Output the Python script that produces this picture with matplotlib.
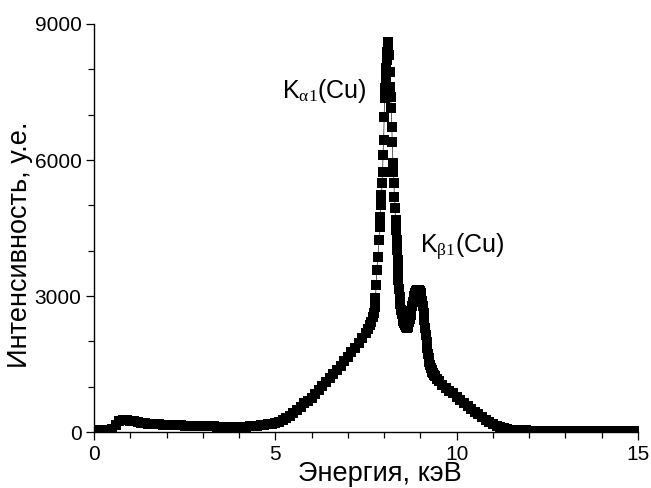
import matplotlib
matplotlib.use("Agg")
import matplotlib.pyplot as plt
from matplotlib.ticker import MultipleLocator

plt.rcParams['font.family'] = ['Liberation Sans', 'DejaVu Sans']
plt.rcParams['mathtext.fontset'] = 'custom'
plt.rcParams['mathtext.rm'] = 'Liberation Serif'
plt.rcParams['mathtext.it'] = 'Liberation Serif'

# spectrum: energy (keV) and intensity (a.u.)
e_low = [0.0, 0.1, 0.2, 0.3, 0.4, 0.5, 0.6, 0.7, 0.8, 0.9,
         1.0, 1.1, 1.2, 1.3, 1.4, 1.5, 1.6, 1.7, 1.8, 1.9,
         2.0, 2.1, 2.2, 2.3, 2.4, 2.5, 2.6, 2.7, 2.8, 2.9,
         3.0, 3.1, 3.2, 3.3, 3.4, 3.5, 3.6, 3.7, 3.8, 3.9,
         4.0, 4.1, 4.2, 4.3, 4.4, 4.5, 4.6, 4.7, 4.8, 4.9,
         5.0, 5.1, 5.2, 5.3, 5.4, 5.5, 5.6, 5.7, 5.8, 5.9,
         6.0, 6.1, 6.2, 6.3, 6.4, 6.5, 6.6, 6.7, 6.8, 6.9,
         7.0, 7.1, 7.2, 7.3, 7.4, 7.5]
c_low = [40, 40, 40, 40, 45, 70, 150, 235, 270, 270,
         250, 232, 218, 205, 195, 185, 178, 172, 168, 164,
         160, 156, 152, 149, 146, 143, 140, 137, 135, 132,
         130, 128, 125, 122, 120, 118, 116, 114, 113, 112,
         113, 116, 120, 125, 132, 140, 150, 160, 172, 185,
         200, 225, 258, 300, 355, 420, 490, 560, 630, 690,
         750, 840, 930, 1020, 1105, 1190, 1280, 1370, 1460, 1560,
         1660, 1760, 1860, 1960, 2070, 2180]

# K-alpha1 peak
e_ka = [7.55, 7.6, 7.65, 7.70, 7.72, 7.74, 7.76, 7.78, 7.80, 7.83,
        7.86, 7.88, 7.895, 7.91, 7.925, 7.94, 7.955, 7.97, 7.985, 8.0,
        8.015, 8.03, 8.045, 8.06, 8.075, 8.09, 8.105, 8.12, 8.135, 8.15,
        8.165, 8.18, 8.195, 8.21, 8.225, 8.24, 8.255, 8.27, 8.285, 8.30,
        8.315, 8.33, 8.345, 8.36, 8.37, 8.38, 8.39]
c_ka = [2270, 2350, 2430, 2540, 2620, 2750, 2950, 3250, 3570, 3860,
        4236, 4522, 4743, 5008, 5228, 5493, 5736, 6111, 6442, 6949,
        7368, 7589, 7810, 8030, 8207, 8383, 8537, 8600, 8317, 7942,
        7611, 7390, 7148, 6729, 6398, 5934, 5736, 5493, 5184, 4942,
        4677, 4456, 4236, 4015, 3795, 3574, 3353]

# K-beta1 peak
e_kb = [8.41, 8.43, 8.45, 8.47, 8.49, 8.51, 8.53, 8.55, 8.57, 8.59,
        8.61, 8.63, 8.65, 8.67, 8.69, 8.71, 8.73, 8.75, 8.77, 8.79,
        8.81, 8.83, 8.85, 8.87, 8.89, 8.91, 8.93, 8.95, 8.97, 8.99,
        9.01, 9.03, 9.05, 9.07, 9.09, 9.11, 9.13, 9.15, 9.17, 9.19,
        9.21, 9.23, 9.25, 9.27, 9.29, 9.31, 9.33, 9.35, 9.37, 9.4,
        9.45, 9.5]
c_kb = [3150, 2980, 2830, 2700, 2600, 2520, 2450, 2400, 2360, 2330,
        2310, 2305, 2320, 2360, 2420, 2500, 2590, 2680, 2770, 2860,
        2940, 3010, 3060, 3100, 3120, 3135, 3140, 3140, 3130, 3110,
        3070, 3000, 2900, 2770, 2620, 2460, 2300, 2140, 1990, 1850,
        1730, 1630, 1550, 1480, 1420, 1370, 1330, 1295, 1265, 1225,
        1170, 1120]

e_high = [9.6, 9.7, 9.8, 9.9, 10.0, 10.1, 10.2, 10.3, 10.4, 10.5,
          10.6, 10.7, 10.8, 10.9, 11.0, 11.1, 11.2, 11.3, 11.4, 11.5,
          11.6, 11.7, 11.8, 11.9, 12.0, 12.1, 12.2, 12.3, 12.4, 12.5,
          12.6, 12.7, 12.8, 12.9, 13.0, 13.1, 13.2, 13.3, 13.4, 13.5,
          13.6, 13.7, 13.8, 13.9, 14.0, 14.1, 14.2, 14.3, 14.4, 14.5,
          14.6, 14.7, 14.8, 14.9, 15.0]
c_high = [1040, 970, 910, 850, 780, 710, 640, 580, 510, 450,
          390, 330, 275, 225, 180, 140, 105, 80, 62, 50,
          42, 38, 35, 34, 33, 33, 32, 32, 32, 31,
          31, 31, 30, 30, 30, 30, 30, 30, 30, 30,
          30, 30, 30, 30, 30, 30, 30, 30, 30, 30,
          30, 30, 30, 30, 30]

energy = e_low + e_ka + e_kb + e_high
counts = c_low + c_ka + c_kb + c_high

fig = plt.figure(figsize=(6.51, 4.88), dpi=100)
ax = fig.add_axes([94/651, 56/488, 544/651, 408/488])

ax.plot(energy, counts, color='#444444', lw=0.6, marker='s', ms=6.8,
        mfc='black', mec='black', mew=0)

ax.set_xlim(0, 15)
ax.set_ylim(0, 9000)
ax.xaxis.set_major_locator(MultipleLocator(5))
ax.xaxis.set_minor_locator(MultipleLocator(1))
ax.yaxis.set_major_locator(MultipleLocator(3000))
ax.yaxis.set_minor_locator(MultipleLocator(1000))

for s in ['top', 'right']:
    ax.spines[s].set_visible(False)
for s in ['left', 'bottom']:
    ax.spines[s].set_linewidth(1.0)

ax.tick_params(which='major', direction='out', length=6, width=0.9, labelsize=15, pad=3)
ax.tick_params(which='minor', direction='out', length=4, width=0.9)

# peak labels
ax.text(5.18, 7368, r"K$_{\mathrm{α1}}$(Cu)", fontsize=18, ha='left', va='baseline')
ax.text(8.99, 3949, r"K$_{\mathrm{β1}}$(Cu)", fontsize=18, ha='left', va='baseline')

fig.text(380/651, 1 - 474/488, "Энергия, кэВ", fontsize=19.5, ha='center', va='center')
fig.text(20/651, 1 - 245/488, "Интенсивность, у.е.", fontsize=19.5, ha='center', va='center',
         rotation=90)

plt.savefig("out.png", dpi=100)
